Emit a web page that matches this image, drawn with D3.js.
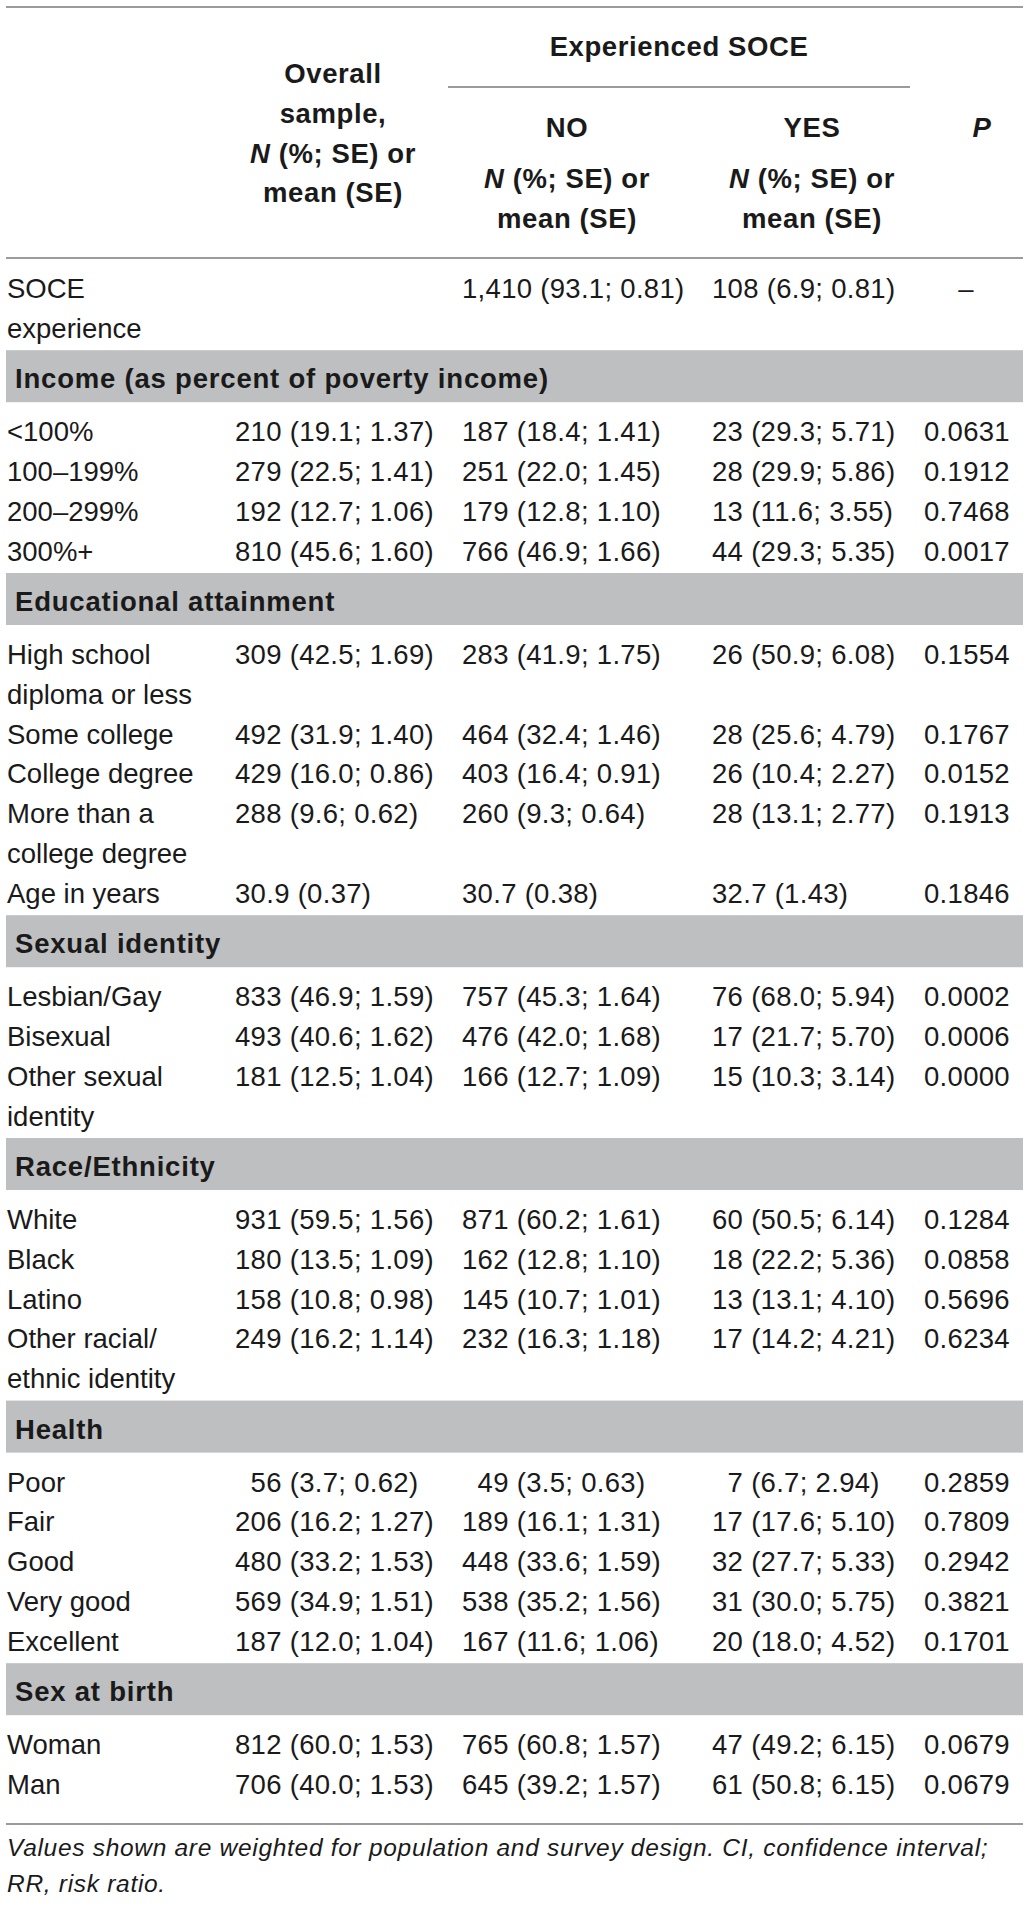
<!DOCTYPE html>
<html>
<head>
<meta charset="utf-8">
<script src="https://cdn.jsdelivr.net/npm/d3@7"></script>
<style>
  body { margin: 0; background: #fff; }
  text { font-family: "Liberation Sans", Arial, Helvetica, sans-serif; fill: #1a1a1a; }
</style>
</head>
<body>
<div id="table"></div>
<script>
// table content
const sections = [
  'Income (as percent of poverty income)',
  'Educational attainment',
  'Sexual identity',
  'Race/Ethnicity',
  'Health',
  'Sex at birth'
];

const rowLabels = [
  ['SOCE', 'experience'],
  ['<100%'], ['100–199%'], ['200–299%'], ['300%+'],
  ['High school', 'diploma or less'], ['Some college'], ['College degree'],
  ['More than a', 'college degree'], ['Age in years'],
  ['Lesbian/Gay'], ['Bisexual'], ['Other sexual', 'identity'],
  ['White'], ['Black'], ['Latino'], ['Other racial/', 'ethnic identity'],
  ['Poor'], ['Fair'], ['Good'], ['Very good'], ['Excellent'],
  ['Woman'], ['Man']
];

// which section each row belongs to (-1 = before any section)
const rowSection = [-1, 0, 0, 0, 0, 1, 1, 1, 1, 1, 2, 2, 2, 3, 3, 3, 3, 4, 4, 4, 4, 4, 5, 5];

const overallValues = [
  '', '210 (19.1; 1.37)', '279 (22.5; 1.41)', '192 (12.7; 1.06)', '810 (45.6; 1.60)',
  '309 (42.5; 1.69)', '492 (31.9; 1.40)', '429 (16.0; 0.86)', '288 (9.6; 0.62)', '30.9 (0.37)',
  '833 (46.9; 1.59)', '493 (40.6; 1.62)', '181 (12.5; 1.04)',
  '931 (59.5; 1.56)', '180 (13.5; 1.09)', '158 (10.8; 0.98)', '249 (16.2; 1.14)',
  '\u200756 (3.7; 0.62)', '206 (16.2; 1.27)', '480 (33.2; 1.53)', '569 (34.9; 1.51)', '187 (12.0; 1.04)',
  '812 (60.0; 1.53)', '706 (40.0; 1.53)'
];

const noValues = [
  '1,410 (93.1; 0.81)', '187 (18.4; 1.41)', '251 (22.0; 1.45)', '179 (12.8; 1.10)', '766 (46.9; 1.66)',
  '283 (41.9; 1.75)', '464 (32.4; 1.46)', '403 (16.4; 0.91)', '260 (9.3; 0.64)', '30.7 (0.38)',
  '757 (45.3; 1.64)', '476 (42.0; 1.68)', '166 (12.7; 1.09)',
  '871 (60.2; 1.61)', '162 (12.8; 1.10)', '145 (10.7; 1.01)', '232 (16.3; 1.18)',
  '\u200749 (3.5; 0.63)', '189 (16.1; 1.31)', '448 (33.6; 1.59)', '538 (35.2; 1.56)', '167 (11.6; 1.06)',
  '765 (60.8; 1.57)', '645 (39.2; 1.57)'
];

const yesValues = [
  '108 (6.9; 0.81)', '23 (29.3; 5.71)', '28 (29.9; 5.86)', '13 (11.6; 3.55)', '44 (29.3; 5.35)',
  '26 (50.9; 6.08)', '28 (25.6; 4.79)', '26 (10.4; 2.27)', '28 (13.1; 2.77)', '32.7 (1.43)',
  '76 (68.0; 5.94)', '17 (21.7; 5.70)', '15 (10.3; 3.14)',
  '60 (50.5; 6.14)', '18 (22.2; 5.36)', '13 (13.1; 4.10)', '17 (14.2; 4.21)',
  '\u20077 (6.7; 2.94)', '17 (17.6; 5.10)', '32 (27.7; 5.33)', '31 (30.0; 5.75)', '20 (18.0; 4.52)',
  '47 (49.2; 6.15)', '61 (50.8; 6.15)'
];

const pValues = [
  '–', '0.0631', '0.1912', '0.7468', '0.0017',
  '0.1554', '0.1767', '0.0152', '0.1913', '0.1846',
  '0.0002', '0.0006', '0.0000',
  '0.1284', '0.0858', '0.5696', '0.6234',
  '0.2859', '0.7809', '0.2942', '0.3821', '0.1701',
  '0.0679', '0.0679'
];

const footnote = [
  'Values shown are weighted for population and survey design. CI, confidence interval;',
  'RR, risk ratio.'
];

// dimensions
const width = 1035, height = 1913;
const left = 6, right = 1023;
const pitch = 39.8;       // distance between text lines
const bandH = 52;         // grey section band
const bandGap = 12.4;     // last baseline -> band top
const bandToText = 39;    // band bottom -> first baseline
const fs = 27.5;

const columns = ['label', 'overall', 'no', 'yes', 'p'];
// left edge of cell text
const colX = d3.scaleOrdinal().domain(columns).range([7, 235, 462, 712, 924]);
// centre of header text
const headX = d3.scaleOrdinal().domain(columns).range([0, 333, 567, 812, 982]);

const svg = d3.select('#table')
  .append('svg')
  .attr('width', width)
  .attr('height', height);

const rule = (y, x1 = left, x2 = right) =>
  svg.append('line')
    .attr('x1', x1).attr('x2', x2)
    .attr('y1', y).attr('y2', y)
    .attr('stroke', '#9b9b9b')
    .attr('stroke-width', 2);

// ---------- header ----------
rule(7);
rule(87, 448, 910);
rule(258);

const head = svg.append('g').attr('font-weight', 'bold')
  .attr('font-size', fs).attr('text-anchor', 'middle')
  .style('letter-spacing', '0.6px');

head.append('text').attr('x', 679).attr('y', 56).text('Experienced SOCE');

// "N (%; SE) or / mean (SE)" with italic N
function subHead(x, y) {
  const t = head.append('text').attr('x', x).attr('y', y);
  t.append('tspan').attr('font-style', 'italic').text('N');
  t.append('tspan').text(' (%; SE) or');
  head.append('text').attr('x', x).attr('y', y + pitch).text('mean (SE)');
}

head.append('text').attr('x', headX('overall')).attr('y', 83).text('Overall');
head.append('text').attr('x', headX('overall')).attr('y', 83 + pitch).text('sample,');
subHead(headX('overall'), 83 + 2 * pitch);

head.append('text').attr('x', headX('no')).attr('y', 137).text('NO');
subHead(headX('no'), 188);
head.append('text').attr('x', headX('yes')).attr('y', 137).text('YES');
subHead(headX('yes'), 188);
head.append('text').attr('x', headX('p')).attr('y', 137)
  .attr('font-style', 'italic').text('P');

// ---------- body layout ----------
const rows = rowLabels.map((lab, i) => ({
  lines: lab,
  section: rowSection[i],
  overall: overallValues[i],
  no: noValues[i],
  yes: yesValues[i],
  p: pValues[i]
}));

const bands = [];
let cursor = 258 + 40;   // baseline of next text line
let lastBase = null;
let current = -1;
rows.forEach(r => {
  if (r.section !== current) {
    const top = lastBase + bandGap;
    bands.push({ title: sections[r.section], top: top });
    cursor = top + bandH + bandToText;
    current = r.section;
  }
  r.y = cursor;
  lastBase = cursor + (r.lines.length - 1) * pitch;
  cursor = lastBase + pitch;
});

// section bands
const band = svg.append('g').selectAll('g')
  .data(bands)
  .join('g')
  .attr('transform', d => `translate(0, ${d.top})`);

band.append('rect')
  .attr('x', left)
  .attr('width', right - left)
  .attr('height', bandH)
  .attr('fill', '#bebfc1');

band.append('text')
  .attr('x', 15)
  .attr('y', 38)
  .attr('font-size', fs)
  .attr('font-weight', 'bold')
  .style('letter-spacing', '0.8px')
  .text(d => d.title);

// rows
const row = svg.append('g').attr('font-size', fs)
  .selectAll('g')
  .data(rows)
  .join('g')
  .attr('transform', d => `translate(0, ${d.y})`);

row.selectAll('text.lab')
  .data(d => d.lines)
  .join('text')
  .attr('class', 'lab')
  .attr('x', colX('label'))
  .attr('y', (d, i) => i * pitch)
  .text(d => d);

['overall', 'no', 'yes'].forEach(c => {
  row.append('text')
    .attr('x', colX(c))
    .attr('y', 0)
    .style('letter-spacing', '0.3px')
    .text(d => d[c]);
});

row.append('text')
  .attr('x', d => d.p === '–' ? headX('p') - 16 : colX('p'))
  .attr('text-anchor', d => d.p === '–' ? 'middle' : 'start')
  .attr('y', 0)
  .style('letter-spacing', '0.3px')
  .text(d => d.p);

// ---------- bottom ----------
rule(lastBase + 30);

svg.append('g')
  .selectAll('text')
  .data(footnote)
  .join('text')
  .attr('x', 7)
  .attr('y', (d, i) => lastBase + 62 + i * 36)
  .attr('font-size', 24.5)
  .attr('font-style', 'italic')
  .style('letter-spacing', '0.7px')
  .text(d => d);
</script>
</body>
</html>
